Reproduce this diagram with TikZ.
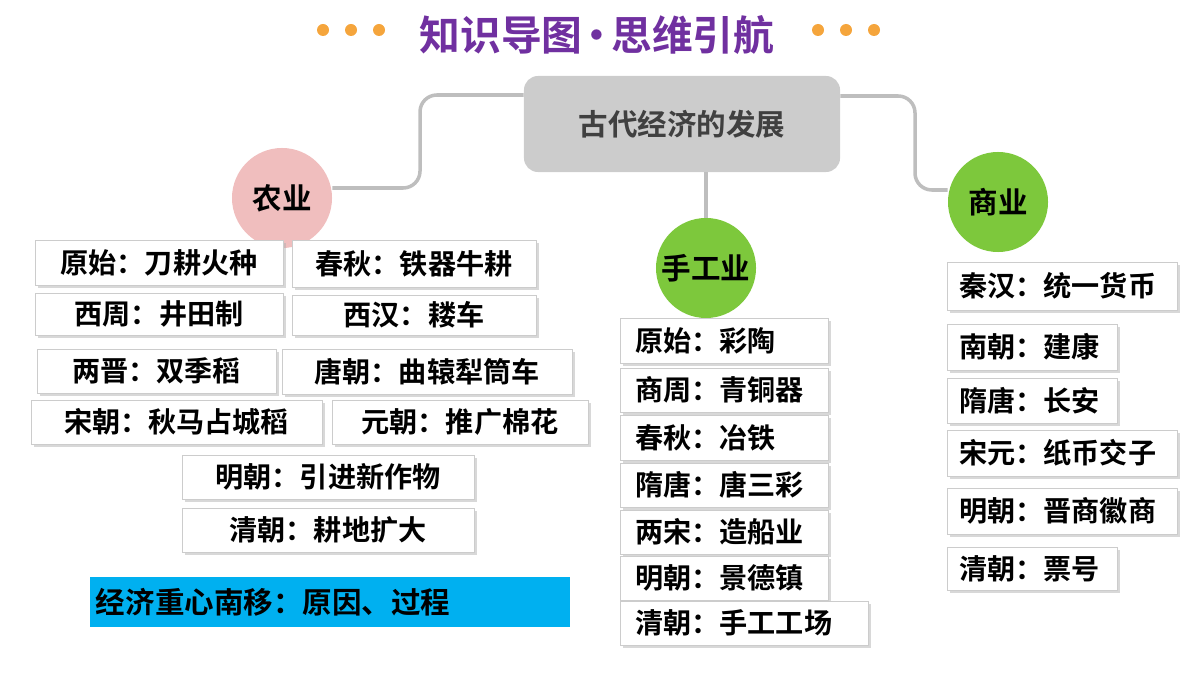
\documentclass[tikz,border=0pt]{standalone}
\usepackage{fontspec}
\setmainfont{Noto Sans CJK SC}[BoldFont={Noto Sans CJK SC Bold}]
\usetikzlibrary{shadows}
\definecolor{titlepurple}{RGB}{112,48,160}
\definecolor{dotorange}{RGB}{245,165,60}
\definecolor{hubgray}{RGB}{204,204,204}
\definecolor{linegray}{RGB}{190,190,190}
\definecolor{agripink}{RGB}{240,190,190}
\definecolor{leafgreen}{RGB}{125,200,60}
\definecolor{bannerblue}{RGB}{0,176,240}
\begin{document}
\begin{tikzpicture}[x=0.025cm,y=-0.025cm,
	itembox/.style={draw=gray!40, fill=white, inner sep=0pt, font=\fontsize{20}{22}\selectfont\bfseries,
		drop shadow={shadow xshift=2pt, shadow yshift=-2pt, fill=gray!60}},
	topic/.style={circle, minimum size=2.5cm, inner sep=0pt, font=\fontsize{21}{23}\selectfont\bfseries},
	branch/.style={draw=linegray, line width=2.5pt, rounded corners=12pt},
	tdot/.style={circle, fill=dotorange, minimum size=0.3cm, inner sep=0pt}]
\useasboundingbox (0,0) rectangle (1200,675);
% title
\node[font=\fontsize{29}{31}\selectfont\bfseries, text=titlepurple] (title) at (597,35) {知识导图\hspace{-0.15em}•\hspace{-0.15em}思维引航};
\foreach \x in {323,351,379,818,846,874} \node[tdot] at (\x,30) {};
% hub and topics
\node[fill=hubgray, rounded corners=10pt, minimum width=7.9cm, minimum height=2.4cm,
	font=\fontsize{21}{23}\selectfont\bfseries, text=black!75] (hub) at (682,124) {古代经济的发展};
\node[topic, fill=agripink] (agri) at (282,198) {农业};
\node[topic, fill=leafgreen] (craft) at (706,268) {手工业};
\node[topic, fill=leafgreen] (trade) at (998,202) {商业};
\draw[branch] (agri.east |- 0,188) -- (420,188) -- (420,95) -- (hub.west |- 0,95);
\draw[branch] (craft.north |- hub.south) -- (craft.north);
\draw[branch] (hub.east |- 0,96) -- (915,96) -- (915,190) -- (trade.west |- 0,190);
% agriculture
\foreach \xa/\ya/\xb/\yb/\txt in {
	35/240/283/285/原始：刀耕火种, 292/240/536/287/春秋：铁器牛耕,
	35/293/283/335/西周：井田制, 292/295/536/335/西汉：耧车,
	37/349/276/393/两晋：双季稻, 282/349/572/394/唐朝：曲辕犁筒车,
	31/400/322/444/宋朝：秋马占城稻, 332/400/588/444/元朝：推广棉花,
	182/455/474/499/明朝：引进新作物, 182/508/474/552/清朝：耕地扩大}
	\node[itembox, minimum width=(\xb-\xa)*0.025cm, minimum height=(\yb-\ya)*0.025cm]
		at ({(\xa+\xb)/2},{(\ya+\yb)/2}) {\txt};
\node[fill=bannerblue, minimum width=12cm, minimum height=1.25cm, font=\fontsize{21}{23}\selectfont\bfseries,
	inner sep=0pt, text width=11.7cm, align=left] (shift) at (330,602) {经济重心南移：原因、过程};
% handicraft
\foreach \ya/\yb/\xb/\txt in {318/363/828/原始：彩陶, 368/412/828/商周：青铜器, 415/460/828/春秋：冶铁,
	463/507/828/隋唐：唐三彩, 510/554/828/两宋：造船业, 556/600/828/明朝：景德镇, 601/645/868/清朝：手工工场}
	\node[itembox, anchor=west, minimum width=(\xb-620)*0.025cm, minimum height=(\yb-\ya)*0.025cm,
		align=left, text width=(\xb-620)*0.025cm-0.25cm] at (620,{(\ya+\yb)/2}) {\hspace*{0.25cm}\txt};
% commerce
\foreach \ya/\yb/\xb/\txt in {262/310/1177/秦汉：统一货币, 324/370/1117/南朝：建康, 378/423/1117/隋唐：长安,
	430/476/1177/宋元：纸币交子, 488/534/1177/明朝：晋商徽商, 547/590/1117/清朝：票号}
	\node[itembox, anchor=west, minimum width=(\xb-947)*0.025cm, minimum height=(\yb-\ya)*0.025cm,
		align=left, text width=(\xb-947)*0.025cm-0.2cm] at (947,{(\ya+\yb)/2}) {\hspace*{0.2cm}\txt};
\end{tikzpicture}
\end{document}
